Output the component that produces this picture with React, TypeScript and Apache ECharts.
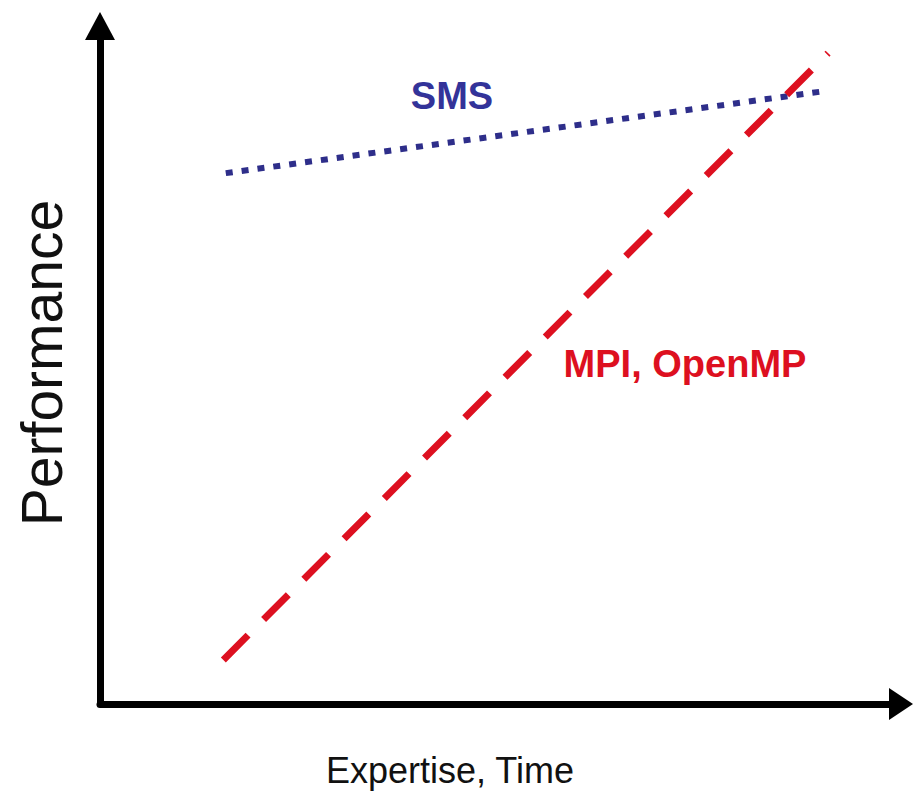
import React, { useEffect, useRef } from "react";
import * as echarts from "echarts";

const smsX = [15.7, 89.9];
const smsY = [78.3, 90.3];
const mpiX = [15.4, 90.9];
const mpiY = [6.5, 96.0];
const smsLabel = "SMS";
const mpiLabel = "MPI, OpenMP";
const xTitle = "Expertise, Time";
const yTitle = "Performance";

export default function App() {
  const ref = useRef<HTMLDivElement>(null);
  useEffect(() => {
    if (!ref.current) return;
    const chart = echarts.init(ref.current, undefined, { renderer: "svg" });
    const axisCommon = {
      type: "value",
      min: 0,
      max: 100,
      axisLabel: { show: false },
      axisTick: { show: false },
      splitLine: { show: false },
    };
    chart.setOption({
      animation: false,
      backgroundColor: "#ffffff",
      grid: { left: 100, top: 26, width: 801, height: 678 },
      xAxis: {
        ...axisCommon,
        axisLine: {
          show: true,
          symbol: ["none", "triangle"],
          symbolSize: [32, 24],
          lineStyle: { color: "#000", width: 7 },
        },
      },
      yAxis: {
        ...axisCommon,
        axisLine: {
          show: true,
          symbol: ["none", "triangle"],
          symbolSize: [30, 28],
          lineStyle: { color: "#000", width: 7 },
        },
      },
      series: [
        {
          type: "line",
          name: smsLabel,
          data: smsX.map((x, i) => [x, smsY[i]]),
          symbol: "none",
          lineStyle: { color: "#2e2e8a", width: 6, type: [7, 9], cap: "butt" },
        },
        {
          type: "line",
          name: mpiLabel,
          data: mpiX.map((x, i) => [x, mpiY[i]]),
          symbol: "none",
          lineStyle: { color: "#dd1020", width: 7, type: [35, 22], cap: "butt" },
        },
      ],
      graphic: [
        {
          type: "text",
          x: 452,
          y: 115,
          style: {
            text: smsLabel,
            font: "bold 38px 'Liberation Sans', Arial, sans-serif",
            fill: "#333399",
            textAlign: "center",
            textVerticalAlign: "bottom",
          },
        },
        {
          type: "text",
          x: 685,
          y: 383,
          style: {
            text: mpiLabel,
            font: "bold 38px 'Liberation Sans', Arial, sans-serif",
            fill: "#dd1020",
            textAlign: "center",
            textVerticalAlign: "bottom",
          },
        },
        {
          type: "text",
          x: 450,
          y: 788,
          style: {
            text: xTitle,
            font: "36px 'Liberation Sans', Arial, sans-serif",
            fill: "#111",
            textAlign: "center",
            textVerticalAlign: "bottom",
          },
        },
        {
          type: "text",
          x: 70,
          y: 363,
          rotation: Math.PI / 2,
          style: {
            text: yTitle,
            font: "57px 'Liberation Sans', Arial, sans-serif",
            fill: "#111",
            textAlign: "center",
            textVerticalAlign: "bottom",
          },
        },
      ],
    });
    return () => chart.dispose();
  }, []);
  return (
    <div
      ref={ref}
      style={{ position: "absolute", left: 0, top: 0, width: 915, height: 796 }}
    />
  );
}
